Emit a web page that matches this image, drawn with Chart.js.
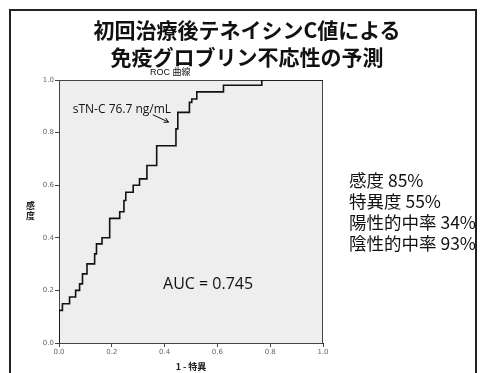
<!DOCTYPE html>
<html lang="ja">
<head>
<meta charset="utf-8">
<script src="https://cdn.jsdelivr.net/npm/chart.js@4.4.1/dist/chart.umd.min.js"></script>
<style>
  html, body { margin: 0; padding: 0; background: #fff; }
  #wrap { position: relative; width: 481px; height: 373px; overflow: hidden; font-family: "Noto Sans CJK JP", sans-serif; color: #111; }
  #frame { position: absolute; left: 9px; top: 9px; width: 464px; height: 380px; border: 2px solid #222; }
  #rocChart { position: absolute; left: 0; top: 0; }
  .title { position: absolute; left: 0; width: 494px; text-align: center; font-size: 21px; font-weight: 700; line-height: 26px; }
  #sub { position: absolute; left: 150px; top: 67px; font-size: 9px; line-height: 11px; font-family: "Liberation Sans", "Noto Sans CJK JP", sans-serif; }
  #ylab { position: absolute; left: 26px; top: 201px; font-size: 9px; line-height: 10px; color: #222; font-weight: 700; text-align: center; }
  #stats { position: absolute; left: 349px; top: 169px; font-size: 17.5px; line-height: 21px; white-space: nowrap; }
</style>
</head>
<body>
<div id="wrap">
  <div id="frame"></div>
  <canvas id="rocChart" width="481" height="373"></canvas>
  <div class="title" style="top:16px">初回治療後テネイシンC値による</div>
  <div class="title" style="top:43px">免疫グロブリン不応性の予測</div>
  <div id="sub">ROC 曲線</div>
  <div id="ylab">感<br>度</div>
  <div id="stats">
    <div>感度 85%</div>
    <div>特異度 55%</div>
    <div>陽性的中率 34%</div>
    <div>陰性的中率 93%</div>
  </div>
</div>
<script>
'use strict';
// ROC curve corners (1 - specificity, sensitivity)
const fpr = [0, 0, 0.013, 0.04, 0.063, 0.078, 0.089, 0.106, 0.135, 0.142, 0.163, 0.192, 0.23, 0.246, 0.253,
             0.281, 0.305, 0.333, 0.37, 0.443, 0.45, 0.494, 0.503, 0.522, 0.623, 0.768, 1.0];
const tpr = [0, 0.124, 0.149, 0.175, 0.2, 0.225, 0.263, 0.301, 0.339, 0.377, 0.4, 0.474, 0.499, 0.542, 0.573,
             0.6, 0.624, 0.675, 0.75, 0.814, 0.877, 0.915, 0.928, 0.955, 0.98, 1.0, 1.0];
const axisTicks = [0, 0.2, 0.4, 0.6, 0.8, 1.0];
const cutoffLabel = 'sTN-C 76.7 ng/mL';
const aucLabel = 'AUC = 0.745';
const xTitle = '1 - 特異';

const $ = id => document.getElementById(id);

const plotDecor = {
  id: 'plotDecor',
  beforeDatasetsDraw(chart) {
    const { ctx, chartArea: a } = chart;
    ctx.save();
    // light grey plot background (the original is a fine stipple)
    ctx.fillStyle = '#eeeeee';
    ctx.fillRect(a.left, a.top, a.right - a.left, a.bottom - a.top);
    ctx.strokeStyle = '#444';
    ctx.lineWidth = 1;
    ctx.strokeRect(a.left + 0.5, a.top + 0.5, a.right - a.left - 1, a.bottom - a.top);
    ctx.restore();
  },
  afterDatasetsDraw(chart) {
    const { ctx, scales: { x, y } } = chart;
    ctx.save();
    ctx.fillStyle = '#111';
    ctx.textBaseline = 'alphabetic';
    ctx.font = '12px "Open Sans", sans-serif';
    ctx.fillText(cutoffLabel, x.getPixelForValue(0.052), y.getPixelForValue(0.873));
    // arrow towards the cut-off point
    const x0 = x.getPixelForValue(0.355), y0 = y.getPixelForValue(0.868);
    const x1 = x.getPixelForValue(0.415), y1 = y.getPixelForValue(0.84);
    ctx.strokeStyle = '#111';
    ctx.lineWidth = 1;
    ctx.beginPath(); ctx.moveTo(x0, y0); ctx.lineTo(x1, y1); ctx.stroke();
    const ang = Math.atan2(y1 - y0, x1 - x0);
    ctx.beginPath();
    ctx.moveTo(x1, y1);
    ctx.lineTo(x1 - 5 * Math.cos(ang - 0.5), y1 - 5 * Math.sin(ang - 0.5));
    ctx.moveTo(x1, y1);
    ctx.lineTo(x1 - 5 * Math.cos(ang + 0.5), y1 - 5 * Math.sin(ang + 0.5));
    ctx.stroke();
    ctx.font = '16px "Open Sans", sans-serif';
    ctx.textBaseline = 'middle';
    ctx.fillText(aucLabel, x.getPixelForValue(0.394), y.getPixelForValue(0.222));
    ctx.restore();
  }
};

const tickFont = { family: '"DejaVu Sans", sans-serif', size: 7 };

new Chart($('rocChart').getContext('2d'), {
  type: 'line',
  data: {
    datasets: [{
      data: fpr.map((v, i) => ({ x: v, y: tpr[i] })),
      borderColor: '#111',
      borderWidth: 1.6,
      pointRadius: 0,
      stepped: 'before',
      fill: false
    }]
  },
  options: {
    responsive: false,
    animation: false,
    layout: { padding: { left: 0, top: 80, right: 158, bottom: 0 } },
    plugins: { legend: { display: false }, tooltip: { enabled: false } },
    scales: {
      x: {
        type: 'linear', min: 0, max: 1,
        afterBuildTicks: s => { s.ticks = axisTicks.map(v => ({ value: v })); },
        afterFit: s => { s.height = 30; },
        grid: { drawOnChartArea: false, drawTicks: true, tickLength: 4, color: '#444' },
        border: { display: true, color: '#222', width: 1 },
        ticks: { font: tickFont, color: '#666', padding: 1, maxRotation: 0, callback: v => v.toFixed(1) },
        title: { display: true, text: xTitle, color: '#222', font: { family: '"Noto Sans CJK JP", sans-serif', size: 9, weight: 'bold' }, padding: { top: 0, bottom: 1 } }
      },
      y: {
        type: 'linear', min: 0, max: 1,
        afterBuildTicks: s => { s.ticks = axisTicks.map(v => ({ value: v })); },
        afterFit: s => { s.width = 59; },
        grid: { drawOnChartArea: false, drawTicks: true, tickLength: 4, color: '#444' },
        border: { display: true, color: '#222', width: 1 },
        ticks: { font: tickFont, color: '#666', padding: 1, callback: v => v.toFixed(1) }
      }
    }
  },
  plugins: [plotDecor]
});
</script>
</body>
</html>
